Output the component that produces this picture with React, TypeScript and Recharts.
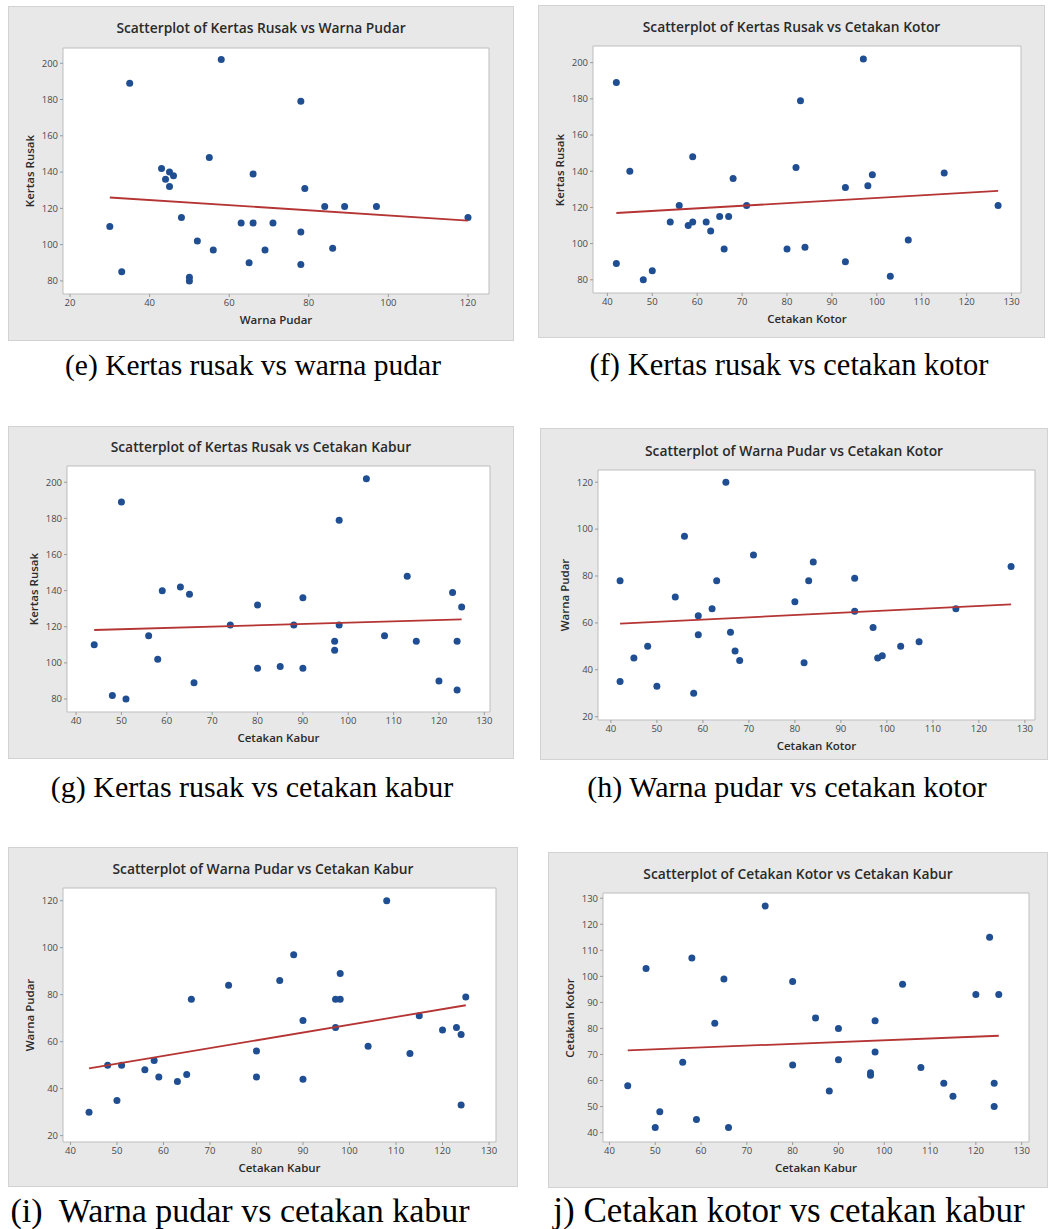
import React from "react";
import {
  ScatterChart,
  Scatter,
  XAxis,
  YAxis,
  CartesianGrid,
  ReferenceArea,
} from "recharts";

// 30 observations, same order in every array
const kertasRusak = [189, 202, 179, 148, 142, 140, 139, 138, 136, 132, 131, 121, 121, 121, 115, 115, 112, 112, 112, 110, 107, 102, 98, 97, 97, 90, 89, 85, 82, 80];
const warnaPudar = [35, 58, 78, 55, 43, 45, 66, 46, 44, 45, 79, 84, 89, 97, 120, 48, 63, 66, 71, 30, 78, 52, 86, 56, 69, 65, 78, 33, 50, 50];
const cetakanKotor = [42, 97, 83, 59, 82, 45, 115, 99, 68, 98, 93, 127, 71, 56, 65, 67, 59, 62, 54, 58, 63, 107, 84, 66, 80, 93, 42, 50, 103, 48];
const cetakanKabur = [50, 104, 98, 113, 63, 59, 123, 65, 90, 80, 125, 74, 98, 88, 108, 56, 124, 97, 115, 44, 97, 58, 85, 80, 90, 120, 66, 124, 48, 51];

// fitted regression lines, end points
const fitKertasWarna = [{ x: 30, y: 126.0 }, { x: 120, y: 113.3 }];
const fitKertasKotor = [{ x: 42, y: 116.9 }, { x: 127, y: 129.1 }];
const fitKertasKabur = [{ x: 44, y: 118.2 }, { x: 125, y: 124.1 }];
const fitWarnaKotor = [{ x: 42, y: 59.7 }, { x: 127, y: 67.9 }];
const fitWarnaKabur = [{ x: 44, y: 48.6 }, { x: 125, y: 75.5 }];
const fitKotorKabur = [{ x: 44, y: 71.6 }, { x: 125, y: 77.2 }];

// tick labels
const ticks20to120 = [20, 40, 60, 80, 100, 120];
const ticks40to130 = [40, 50, 60, 70, 80, 90, 100, 110, 120, 130];
const ticks80to200 = [80, 100, 120, 140, 160, 180, 200];
const ticks40to130y = [40, 50, 60, 70, 80, 90, 100, 110, 120, 130];

const zip = (xs: number[], ys: number[]) => xs.map((x, i) => ({ x, y: ys[i] }));

const DOT = "#1f4f92";
const FIT = "#b53434";
const UI_FONT = "'Open Sans', 'Noto Sans', sans-serif";

type PanelProps = {
  box: [number, number, number, number]; // left, top, width, height
  plot: [number, number, number, number]; // offsets: left, top, right, bottom
  titleY: number;
  title: string;
  xLabel: string;
  yLabel: string;
  xDomain: [number, number];
  yDomain: [number, number];
  xTicks: number[];
  yTicks: number[];
  points: { x: number; y: number }[];
  fit: { x: number; y: number }[];
};

function Panel(p: PanelProps) {
  const [left, top, width, height] = p.box;
  const [pl, pt, pr, pb] = p.plot;
  const plotW = width - pl - pr;
  const plotH = height - pt - pb;
  const tickStyle = { fontSize: 9.5, fill: "#4a4a4a", fontFamily: UI_FONT };

  return (
    <div
      style={{
        position: "absolute",
        left,
        top,
        width,
        height,
        background: "#e8e8e8",
        boxShadow: "inset 0 0 0 1px #d2d2d2",
        fontFamily: UI_FONT,
      }}
    >
      <div
        style={{
          position: "absolute",
          left: 0,
          width,
          top: p.titleY - 9,
          lineHeight: "18px",
          textAlign: "center",
          fontSize: 13.8,
          fontWeight: 600,
          color: "#2a2a2a",
        }}
      >
        {p.title}
      </div>
      <ScatterChart
        width={width}
        height={height}
        margin={{ top: pt, right: pr, bottom: 0, left: 0 }}
        style={{ position: "absolute", left: 0, top: 0 }}
      >
        <CartesianGrid fill="#ffffff" stroke="none" />
        <XAxis
          type="number"
          dataKey="x"
          domain={p.xDomain}
          ticks={p.xTicks}
          interval={0}
          allowDataOverflow
          height={pb}
          tickSize={3}
          tickMargin={2}
          axisLine={false}
          tickLine={{ stroke: "#9a9a9a" }}
          tick={tickStyle}
        />
        <YAxis
          type="number"
          dataKey="y"
          domain={p.yDomain}
          ticks={p.yTicks}
          interval={0}
          allowDataOverflow
          width={pl}
          tickSize={3}
          tickMargin={2}
          axisLine={false}
          tickLine={{ stroke: "#9a9a9a" }}
          tick={tickStyle}
        />
        <ReferenceArea
          x1={p.xDomain[0]}
          x2={p.xDomain[1]}
          y1={p.yDomain[0]}
          y2={p.yDomain[1]}
          fill="none"
          stroke="#bdbdbd"
          strokeWidth={1}
          ifOverflow="visible"
        />
        <Scatter
          data={p.points}
          isAnimationActive={false}
          shape={(s: any) => <circle cx={s.cx} cy={s.cy} r={3.5} fill={DOT} />}
        />
        <Scatter
          data={p.fit}
          isAnimationActive={false}
          line={{ stroke: FIT, strokeWidth: 1.8 }}
          shape={() => <g />}
        />
      </ScatterChart>
      <div
        style={{
          position: "absolute",
          left: pl,
          width: plotW,
          top: pt + plotH + 26 - 8,
          lineHeight: "16px",
          textAlign: "center",
          fontSize: 11.5,
          fontWeight: 600,
          color: "#2a2a2a",
        }}
      >
        {p.xLabel}
      </div>
      <div
        style={{
          position: "absolute",
          left: pl - 33,
          top: pt + plotH / 2,
          transform: "translate(-50%, -50%) rotate(-90deg)",
          whiteSpace: "nowrap",
          lineHeight: "16px",
          fontSize: 11.5,
          fontWeight: 600,
          color: "#2a2a2a",
        }}
      >
        {p.yLabel}
      </div>
    </div>
  );
}

const panels: PanelProps[] = [
  {
    box: [8, 6, 506, 335],
    plot: [55, 42, 25, 47],
    titleY: 22,
    title: "Scatterplot of Kertas Rusak vs Warna Pudar",
    xLabel: "Warna Pudar",
    yLabel: "Kertas Rusak",
    xDomain: [18.24, 125.28],
    yDomain: [72.8, 208.4],
    xTicks: ticks20to120,
    yTicks: ticks80to200,
    points: zip(warnaPudar, kertasRusak),
    fit: fitKertasWarna,
  },
  {
    box: [538, 5, 507, 333],
    plot: [55, 41, 24, 45],
    titleY: 22,
    title: "Scatterplot of Kertas Rusak vs Cetakan Kotor",
    xLabel: "Cetakan Kotor",
    yLabel: "Kertas Rusak",
    xDomain: [36.8, 132.1],
    yDomain: [72.7, 209.2],
    xTicks: ticks40to130,
    yTicks: ticks80to200,
    points: zip(cetakanKotor, kertasRusak),
    fit: fitKertasKotor,
  },
  {
    box: [8, 426, 506, 333],
    plot: [59, 40, 24, 47],
    titleY: 21,
    title: "Scatterplot of Kertas Rusak vs Cetakan Kabur",
    xLabel: "Cetakan Kabur",
    yLabel: "Kertas Rusak",
    xDomain: [38.0, 131.25],
    yDomain: [72.8, 209.0],
    xTicks: ticks40to130,
    yTicks: ticks80to200,
    points: zip(cetakanKabur, kertasRusak),
    fit: fitKertasKabur,
  },
  {
    box: [540, 428, 508, 332],
    plot: [58, 42, 13, 40],
    titleY: 23,
    title: "Scatterplot of Warna Pudar vs Cetakan Kotor",
    xLabel: "Cetakan Kotor",
    yLabel: "Warna Pudar",
    xDomain: [37.2, 132.2],
    yDomain: [18.6, 125.2],
    xTicks: ticks40to130,
    yTicks: ticks20to120,
    points: zip(cetakanKotor, warnaPudar),
    fit: fitWarnaKotor,
  },
  {
    box: [8, 847, 510, 340],
    plot: [55, 41, 22, 45],
    titleY: 22,
    title: "Scatterplot of Warna Pudar vs Cetakan Kabur",
    xLabel: "Cetakan Kabur",
    yLabel: "Warna Pudar",
    xDomain: [38.4, 131.5],
    yDomain: [17.3, 125.4],
    xTicks: ticks40to130,
    yTicks: ticks20to120,
    points: zip(cetakanKabur, warnaPudar),
    fit: fitWarnaKabur,
  },
  {
    box: [548, 852, 500, 336],
    plot: [55, 41, 19, 46],
    titleY: 22,
    title: "Scatterplot of Cetakan Kotor vs Cetakan Kabur",
    xLabel: "Cetakan Kabur",
    yLabel: "Cetakan Kotor",
    xDomain: [38.6, 131.6],
    yDomain: [36.4, 132.0],
    xTicks: ticks40to130,
    yTicks: ticks40to130y,
    points: zip(cetakanKabur, cetakanKotor),
    fit: fitKotorKabur,
  },
];

const captions = [
  { text: "(e) Kertas rusak vs warna pudar", cx: 253, baseline: 376, size: 29.5 },
  { text: "(f) Kertas rusak vs cetakan kotor", cx: 789, baseline: 376, size: 30.5 },
  { text: "(g) Kertas rusak vs cetakan kabur", cx: 252, baseline: 797, size: 30 },
  { text: "(h) Warna pudar vs cetakan kotor", cx: 787, baseline: 797, size: 30 },
  { text: "(i)  Warna pudar vs cetakan kabur", cx: 240, baseline: 1222, size: 34 },
  { text: "j) Cetakan kotor vs cetakan kabur", cx: 789, baseline: 1222, size: 35 },
];

export default function App() {
  return (
    <div
      style={{
        position: "absolute",
        left: 0,
        top: 0,
        width: 1048,
        height: 1229,
        background: "#ffffff",
        overflow: "hidden",
      }}
    >
      {panels.map((p, i) => (
        <Panel key={i} {...p} />
      ))}
      {captions.map((c, i) => (
        <div
          key={i}
          style={{
            position: "absolute",
            left: c.cx - 300,
            width: 600,
            top: c.baseline - 0.8375 * c.size,
            lineHeight: `${c.size}px`,
            fontSize: c.size,
            fontFamily: "'Liberation Serif', 'Times New Roman', serif",
            textAlign: "center",
            whiteSpace: "pre",
            color: "#000",
          }}
        >
          {c.text}
        </div>
      ))}
    </div>
  );
}
